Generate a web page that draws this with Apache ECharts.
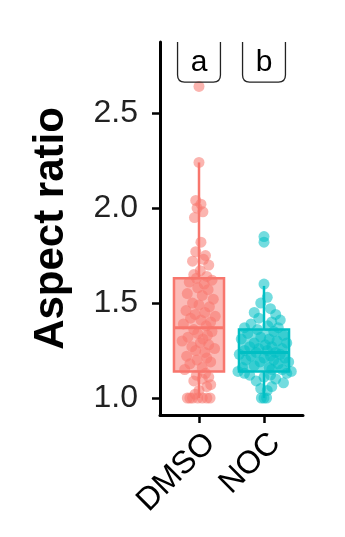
<!DOCTYPE html>
<html>
<head>
<meta charset="utf-8">
<script src="https://cdn.jsdelivr.net/npm/echarts@6/dist/echarts.min.js"></script>
<style>
html,body{margin:0;padding:0;background:#fff;}
#main{width:345px;height:537px;}
</style>
</head>
<body>
<div id="main"></div>
<script>
//分组
var categories = ['DMSO', 'NOC'];
var groupLetters = ['a', 'b'];
var colors = ['#F8766D', '#00BFC4'];
//箱线图统计值
var whiskerLow = [1.00, 1.00];
var q1 = [1.14, 1.14];
var median = [1.37, 1.24];
var q3 = [1.63, 1.36];
var whiskerHigh = [2.24, 1.59];
//散点
var dmsoValues = [2.64, 2.24, 2.04, 2.02, 2.00, 1.98, 1.95, 1.82, 1.77, 1.75, 1.73, 1.72, 1.70, 1.67, 1.65, 1.64, 1.63, 1.62,
	1.61, 1.60, 1.58, 1.57, 1.55, 1.54, 1.52, 1.50, 1.49, 1.48, 1.46, 1.45, 1.44, 1.43, 1.42, 1.41, 1.40, 1.39, 1.38,
	1.36, 1.35, 1.34, 1.33, 1.32, 1.31, 1.30, 1.29, 1.28, 1.27, 1.26, 1.25, 1.24, 1.22, 1.21, 1.20, 1.19, 1.18, 1.16, 1.15,
	1.13, 1.12, 1.11, 1.10, 1.09, 1.07, 1.06, 1.04, 1.02, 1.00, 1.00, 1.00, 1.00, 1.00, 1.00, 1.00];
var dmsoJitter = [0.00, 0.00, -0.05, 0.03, -0.03, 0.06, -0.07, 0.03, -0.05, 0.10, 0.07, -0.10, 0.15, 0.02, -0.08, 0.12, -0.04, 0.20,
	-0.15, 0.08, -0.02, 0.14, -0.18, 0.05, 0.22, -0.10, 0.00, 0.16, -0.20, 0.09, -0.06, 0.25, -0.13, 0.03, 0.18, -0.24, 0.11,
	-0.08, 0.20, -0.02, 0.13, -0.17, 0.06, -0.26, 0.02, 0.15, -0.11, 0.24, -0.05, 0.09, -0.19, 0.12, -0.03, 0.18, -0.14, 0.05, -0.22,
	0.10, -0.04, 0.15, 0.05, -0.08, 0.18, 0.12, 0.00, -0.06, -0.18, -0.10, -0.02, 0.05, 0.12, 0.17, -0.14];
var nocValues = [1.85, 1.82, 1.60, 1.53, 1.50, 1.47, 1.45, 1.44, 1.42, 1.41, 1.40, 1.39, 1.38, 1.37, 1.37, 1.36,
	1.35, 1.34, 1.33, 1.32, 1.31, 1.31, 1.30, 1.29, 1.29, 1.28, 1.27, 1.27, 1.26, 1.26, 1.25, 1.25, 1.24,
	1.24, 1.23, 1.23, 1.22, 1.22, 1.21, 1.21, 1.20, 1.20, 1.19, 1.19, 1.18, 1.17, 1.16, 1.16, 1.15, 1.15,
	1.14, 1.14, 1.13, 1.13, 1.12, 1.12, 1.11, 1.10, 1.09, 1.08, 1.06, 1.05, 1.04, 1.00, 1.00, 1.00];
var nocJitter = [0.00, 0.00, 0.00, 0.05, -0.05, 0.10, -0.15, 0.18, -0.08, 0.25, 0.12, -0.20, 0.06, -0.30, 0.22, -0.10,
	0.15, -0.25, 0.30, -0.05, 0.08, -0.35, 0.20, -0.15, 0.35, 0.02, -0.22, 0.12, -0.08, 0.28, -0.30, 0.05, 0.18,
	-0.12, 0.25, -0.38, 0.10, -0.20, 0.32, 0.00, -0.28, 0.15, 0.38, -0.06, 0.22, -0.15, 0.08, -0.33, 0.28, 0.12,
	-0.40, 0.42, -0.30, 0.35, -0.22, 0.10, 0.00, 0.18, -0.12, 0.30, 0.12, -0.05, 0.05, -0.04, 0.04, 0.00];
var yTicks = [1.0, 1.5, 2.0, 2.5];

var fontFamily = 'Liberation Sans, Arial, sans-serif';
var dom = document.getElementById('main');
var myChart = echarts.init(dom);

var boxData = [];
for (var i = 0; i < categories.length; i++) {
	boxData.push([i + 1, whiskerLow[i], q1[i], median[i], q3[i], whiskerHigh[i]]);
}
var toPoints = function(values, jitter, pos) {
	var out = [];
	for (var k = 0; k < values.length; k++) {
		out.push([pos + jitter[k], values[k]]);
	}
	return out;
};
var letterData = [];
for (var j = 0; j < groupLetters.length; j++) {
	letterData.push([j + 1]);
}

var renderBox = function(params, api) {
	var x = api.value(0);
	var color = colors[params.dataIndex];
	var half = 0.385;
	var left = api.coord([x - half, 0])[0];
	var right = api.coord([x + half, 0])[0];
	var cx = api.coord([x, 0])[0];
	var yLow = api.coord([x, api.value(1)])[1];
	var yQ1 = api.coord([x, api.value(2)])[1];
	var yMed = api.coord([x, api.value(3)])[1];
	var yQ3 = api.coord([x, api.value(4)])[1];
	var yHigh = api.coord([x, api.value(5)])[1];
	var lineStyle = { stroke: color, lineWidth: 2.5 };
	return {
		type: 'group',
		children: [
			{ type: 'line', shape: { x1: cx, y1: yQ1, x2: cx, y2: yLow }, style: lineStyle },
			{ type: 'line', shape: { x1: cx, y1: yQ3, x2: cx, y2: yHigh }, style: lineStyle },
			{ type: 'rect', shape: { x: left, y: yQ3, width: right - left, height: yQ1 - yQ3 },
				style: { fill: echarts.color.modifyAlpha(color, 0.5), stroke: color, lineWidth: 2.5 } },
			{ type: 'line', shape: { x1: left, y1: yMed, x2: right, y2: yMed }, style: { stroke: color, lineWidth: 3 } }
		]
	};
};

var renderLetter = function(params, api) {
	var x = api.value(0);
	var half = 0.33;
	var left = api.coord([x - half, 0])[0];
	var right = api.coord([x + half, 0])[0];
	var top = params.coordSys.y;
	var bottom = api.coord([x, 2.663])[1];
	var r = 7;
	var path = 'M' + left + ' ' + top + ' L' + left + ' ' + (bottom - r) +
		' Q' + left + ' ' + bottom + ' ' + (left + r) + ' ' + bottom +
		' L' + (right - r) + ' ' + bottom +
		' Q' + right + ' ' + bottom + ' ' + right + ' ' + (bottom - r) +
		' L' + right + ' ' + top;
	return {
		type: 'group',
		children: [
			{ type: 'path', shape: { pathData: path }, style: { fill: null, stroke: '#222', lineWidth: 1.3 } },
			{ type: 'text', style: { text: groupLetters[params.dataIndex], x: (left + right) / 2, y: (top + bottom) / 2 + 1,
				align: 'center', verticalAlign: 'middle', font: '30px ' + fontFamily, fill: '#000' } }
		]
	};
};

option = {
	animation: false,
	grid: { left: 160, right: 42, top: 42, bottom: 122, containLabel: false },
	xAxis: {
		type: 'value',
		min: 0.4,
		max: 2.6,
		splitLine: { show: false },
		axisLine: { show: true, lineStyle: { color: '#000', width: 3 } },
		axisTick: { show: true, customValues: [1, 2], length: 8, lineStyle: { color: '#000', width: 2.5 } },
		axisLabel: {
			show: true,
			customValues: [1, 2],
			rotate: 45,
			verticalAlign: 'top',
			margin: 12,
			color: '#000',
			fontSize: 32,
			fontFamily: fontFamily,
			formatter: function(v) { return categories[Math.round(v) - 1]; }
		}
	},
	yAxis: {
		type: 'value',
		min: 0.9105,
		max: 2.874,
		name: 'Aspect ratio',
		nameLocation: 'middle',
		nameGap: 88,
		nameTextStyle: { fontSize: 42, fontWeight: 'bold', color: '#000', fontFamily: fontFamily },
		splitLine: { show: false },
		axisLine: { show: true, lineStyle: { color: '#000', width: 3 } },
		axisTick: { show: true, customValues: yTicks, length: 8, lineStyle: { color: '#000', width: 2.5 } },
		axisLabel: {
			show: true,
			customValues: yTicks,
			margin: 22,
			color: '#222',
			fontSize: 32,
			fontFamily: fontFamily,
			formatter: function(v) { return v.toFixed(1); }
		}
	},
	series: [
		{
			type: 'custom',
			renderItem: renderBox,
			data: boxData,
			z: 1
		},
		{
			type: 'scatter',
			data: toPoints(dmsoValues, dmsoJitter, 1),
			symbolSize: 11,
			itemStyle: { color: colors[0], opacity: 0.55 },
			z: 2
		},
		{
			type: 'scatter',
			data: toPoints(nocValues, nocJitter, 2),
			symbolSize: 11,
			itemStyle: { color: colors[1], opacity: 0.55 },
			z: 2
		},
		{
			type: 'custom',
			renderItem: renderLetter,
			data: letterData,
			z: 3
		}
	]
};
if (option && typeof option === "object") {
	myChart.setOption(option, true);
}
</script>
</body>
</html>
